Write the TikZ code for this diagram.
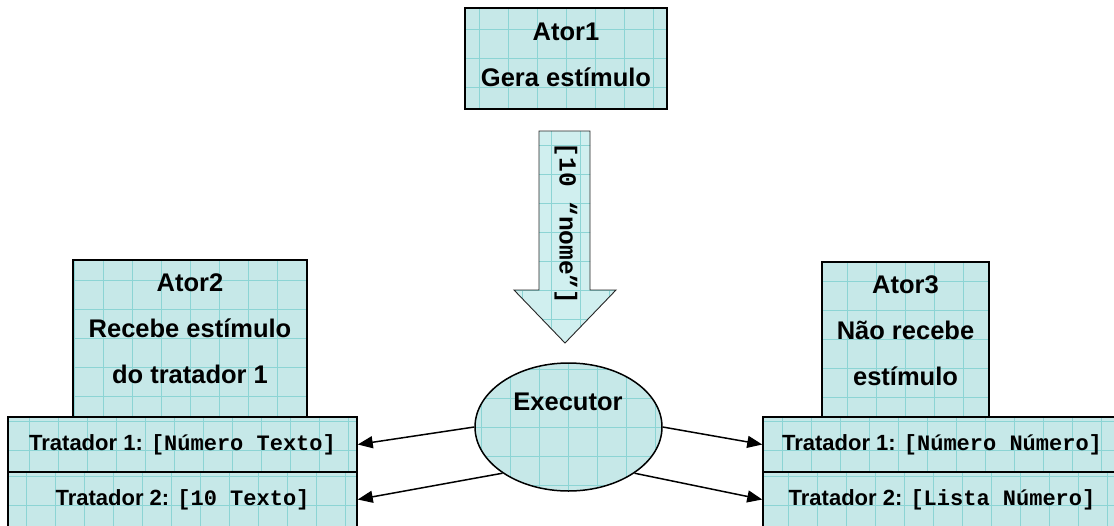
\documentclass[tikz,border=0pt]{standalone}
\usepackage{fontspec}
\setmainfont{Liberation Sans}
\setmonofont{Liberation Mono}
\usetikzlibrary{arrows.meta,shapes.geometric}
\definecolor{boxfill}{RGB}{198,232,232}
\definecolor{arrowfill}{RGB}{208,239,239}
\definecolor{gridcol}{RGB}{140,212,212}
\tikzset{
  gridded/.style={path picture={
     \fill[#1] (path picture bounding box.south west) rectangle (path picture bounding box.north east);
     \draw[gridcol, line width=0.5pt] (path picture bounding box.south west) grid[step=29pt] (path picture bounding box.north east);}},
  actorbox/.style={draw=black, line width=1.5pt, gridded=boxfill, rectangle, inner sep=0pt},
  actortext/.style={align=center, inner sep=0pt, font=\bfseries\fontsize{25.5}{46}\selectfont},
  handlerbox/.style={draw=black, line width=1.5pt, gridded=boxfill, rectangle, inner sep=0pt,
     font=\bfseries\fontsize{22}{26}\selectfont},
  conn/.style={line width=1.5pt, -{Triangle[length=15pt,width=12pt]}},
}
\begin{document}
\begin{tikzpicture}[x=1pt,y=-1pt]
\path[fill=white, use as bounding box] (0,0) rectangle (1114,525);

% Actor 1 and stimulus
\node[actorbox, minimum width=202pt, minimum height=101pt] (ator1) at (566,58.5) {};
\node[actortext] (ator1txt) at (566,55) {Ator1\\Gera estímulo};
\draw[draw=black!85, line width=0.9pt, gridded=arrowfill]
  (539,131) -- (590,131) -- (590,290) -- (616,290) -- (565,343) -- (514,290) -- (539,290) -- cycle;
\node[rotate=-90, font=\ttfamily\bfseries\fontsize{24.5}{28}\selectfont] (msg) at (566,223.5) {[10 “nome”]};

% Left side
\node[actorbox, minimum width=234pt, minimum height=157pt] (ator2) at (190,338.5) {};
\node[actortext] (ator2txt) at (190,329) {Ator2\\Recebe estímulo\\do tratador 1};
\node[handlerbox, minimum width=349pt, minimum height=55pt] (t1L) at (182.5,444.5) {Tratador 1: {\ttfamily [Número Texto]}};
\node[handlerbox, minimum width=349pt, minimum height=55pt] (t2L) at (182.5,499.5) {Tratador 2: {\ttfamily [10 Texto]}};

% Right side
\node[actorbox, minimum width=167pt, minimum height=155pt] (ator3) at (905.5,339.5) {};
\node[actortext] (ator3txt) at (905.5,330.5) {Ator3\\Não recebe\\estímulo};
\node[handlerbox, minimum width=358pt, minimum height=55pt] (t1R) at (942,444.5) {Tratador 1: {\ttfamily [Número Número]}};
\node[handlerbox, minimum width=358pt, minimum height=55pt] (t2R) at (942,499.5) {Tratador 2: {\ttfamily [Lista Número]}};

% Executor
\node[ellipse, draw=black, line width=1.5pt, gridded=boxfill, minimum width=187pt, minimum height=128pt, inner sep=0pt] (ex) at (568.5,427) {};
\node[font=\bfseries\fontsize{25.5}{30}\selectfont] (exlabel) at (568,402) {Executor};

% Connectors
\draw[conn] (ex.west) -- (t1L.east);
\draw[conn] (ex.215) -- (t2L.east);
\draw[conn] (ex.east) -- (t1R.west);
\draw[conn] (ex.-35) -- (t2R.west);
\end{tikzpicture}
\end{document}
